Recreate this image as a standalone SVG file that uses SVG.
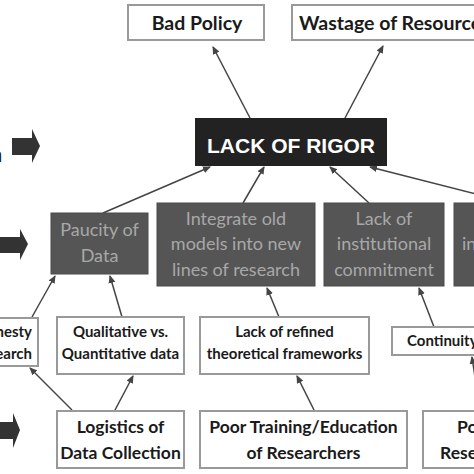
<svg xmlns="http://www.w3.org/2000/svg" width="474" height="474" viewBox="0 0 474 474">
<defs>
<style>
.wb{fill:#fff;stroke:#999;stroke-width:2}
.db{fill:#555;stroke:#4a4a4a;stroke-width:1}
.t1{font-family:Lato,"Liberation Sans",sans-serif;font-weight:bold;font-size:19.5px;fill:#1a1a1a;text-anchor:middle}
.t2{font-family:Lato,"Liberation Sans",sans-serif;font-size:18px;fill:#a8a8a8;text-anchor:middle}
.t3{font-family:Lato,"Liberation Sans",sans-serif;font-weight:bold;font-size:15px;fill:#1a1a1a;text-anchor:middle}
.t4{font-family:Lato,"Liberation Sans",sans-serif;font-weight:bold;font-size:17.5px;fill:#1a1a1a;text-anchor:middle}
.c{stroke:#444;stroke-width:1.5;fill:none;marker-end:url(#ah)}
.ba{fill:#333}
</style>
<marker id="ah" markerWidth="8" markerHeight="8" refX="7" refY="4" orient="auto" markerUnits="userSpaceOnUse">
<path d="M0,0.5 L8,4 L0,7.5 Z" fill="#444"/>
</marker>
</defs>
<rect width="474" height="474" fill="#fff"/>

<g id="side-arrows">
<text x="-10" y="162" font-family="Liberation Sans, sans-serif" font-weight="bold" font-size="20" fill="#222">n</text>
<path class="ba" d="M12,138 H32 V129 L40,146 L32,163 V155 H12 Z"/>
<path class="ba" d="M0,237 H20 V229 L28,244 L20,260 V253 H0 Z"/>
<path class="ba" d="M0,422 H13 V413 L20,430 L13,448 V439 H0 Z"/>
</g>

<g id="connectors">
<line class="c" x1="250" y1="118" x2="213" y2="47"/>
<line class="c" x1="345" y1="118" x2="383" y2="46"/>
<line class="c" x1="103" y1="213" x2="210" y2="167"/>
<line class="c" x1="243" y1="203" x2="264" y2="167"/>
<line class="c" x1="369" y1="203" x2="330" y2="167"/>
<line class="c" x1="476" y1="194" x2="370" y2="167"/>
<line class="c" x1="32" y1="317" x2="55" y2="276"/>
<line class="c" x1="122" y1="317" x2="110" y2="276"/>
<line class="c" x1="279" y1="317" x2="267" y2="288"/>
<line class="c" x1="434" y1="327" x2="419" y2="288"/>
<line class="c" x1="72" y1="410" x2="30" y2="368"/>
<line class="c" x1="115" y1="410" x2="133" y2="376"/>
<line class="c" x1="314" y1="410" x2="297" y2="376"/>
<line class="c" x1="480" y1="411" x2="472" y2="357"/>
</g>

<g id="bad-policy"><rect class="wb" x="128" y="5" width="136" height="35"/><text class="t1" x="197" y="30">Bad Policy</text></g>
<g id="wastage"><rect class="wb" x="292" y="5" width="200" height="35"/><text class="t1" x="299" y="30" style="text-anchor:start">Wastage of Resources</text></g>

<g id="lack-of-rigor"><rect x="195" y="118" width="192" height="48" fill="#222"/><text x="291" y="153" font-family="Liberation Sans, Arial, sans-serif" font-weight="bold" font-size="21" fill="#fff" text-anchor="middle">LACK OF RIGOR</text></g>

<g id="paucity"><rect class="db" x="51" y="213" width="97" height="61"/><text class="t2" x="99.5" y="236">Paucity of</text><text class="t2" x="99.5" y="262">Data</text></g>
<g id="integrate"><rect class="db" x="157" y="203" width="158" height="83"/><text class="t2" x="236" y="225">Integrate old</text><text class="t2" x="236" y="250">models into new</text><text class="t2" x="236" y="276">lines of research</text></g>
<g id="institutional"><rect class="db" x="324" y="203" width="120" height="83"/><text class="t2" x="384" y="225">Lack of</text><text class="t2" x="384" y="250">institutional</text><text class="t2" x="384" y="276">commitment</text></g>
<g id="incentives"><rect class="db" x="454" y="203" width="60" height="83"/><text class="t2" x="462" y="250" style="text-anchor:start">incentives</text></g>

<g id="honesty"><rect class="wb" x="-40" y="318" width="78" height="48"/><text class="t3" x="32" y="337" style="text-anchor:end">Honesty</text><text class="t3" x="32" y="359" style="text-anchor:end">in Research</text></g>
<g id="qualitative"><rect class="wb" x="57" y="317" width="127" height="57"/><text class="t3" x="120.5" y="337">Qualitative vs.</text><text class="t3" x="120.5" y="359">Quantitative data</text></g>
<g id="refined"><rect class="wb" x="200" y="317" width="169" height="57"/><text class="t3" x="284.5" y="337">Lack of refined</text><text class="t3" x="284.5" y="359">theoretical frameworks</text></g>
<g id="continuity"><rect class="wb" x="392" y="327" width="100" height="28"/><text class="t3" x="407" y="346" style="text-anchor:start">Continuity</text></g>

<g id="logistics"><rect class="wb" x="57" y="411" width="127" height="57"/><text class="t4" x="120.5" y="433">Logistics of</text><text class="t4" x="120.5" y="459">Data Collection</text></g>
<g id="training"><rect class="wb" x="200" y="411" width="207" height="57"/><text class="t4" x="303.5" y="433">Poor Training/Education</text><text class="t4" x="303.5" y="459">of Researchers</text></g>
<g id="poor-research"><rect class="wb" x="423" y="411" width="100" height="57"/><text class="t4" x="457" y="433" style="text-anchor:start">Poor</text><text class="t4" x="440" y="459" style="text-anchor:start">Research</text></g>
</svg>
